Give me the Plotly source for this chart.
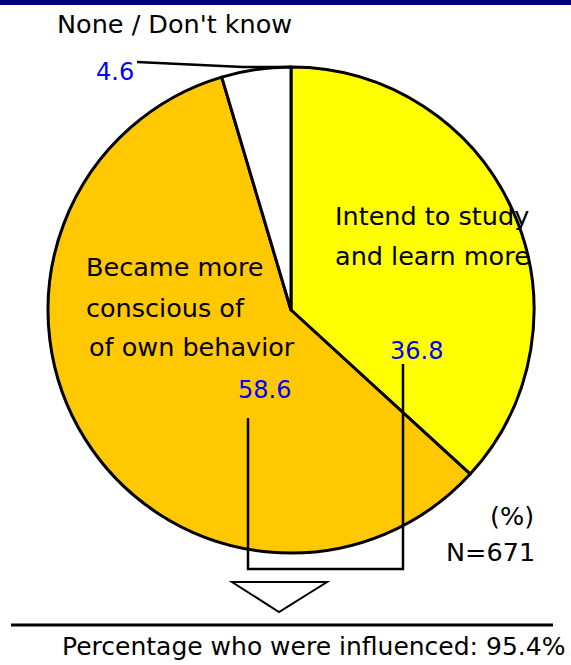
import plotly.graph_objects as go

# ---- data ----
labels = ["Intend to study and learn more", "Became more conscious of own behavior", "None / Don't know"]
values = [36.8, 58.6, 4.6]
colors = ["#FFFF00", "#FFC800", "#FFFFFF"]
sample_n = 671
influenced = 95.4

W, H = 571, 665


def px(x):
    return x / W


def py(y):
    return 1 - y / H


FONT = "DejaVu Sans"
FS = 25.5
FS_NUM = 24

fig = go.Figure()
fig.add_trace(go.Pie(
    labels=labels, values=values, sort=False, direction="clockwise", rotation=0,
    marker=dict(colors=colors, line=dict(color="black", width=3)),
    textinfo="none", hoverinfo="label+value", showlegend=False,
    domain=dict(x=[px(48), px(534)], y=[py(553), py(67)]),
))

shapes = []
# navy header bar (cut off)
shapes.append(dict(type="rect", xref="paper", yref="paper", x0=0, x1=1, y0=py(5), y1=1,
                   fillcolor="#000080", line=dict(width=0), layer="above"))
# leader line for 4.6
shapes.append(dict(type="path", xref="paper", yref="paper",
                   path=f"M {px(137)},{py(62)} L {px(243)},{py(67)} L {px(291)},{py(67)}",
                   line=dict(color="black", width=2.5), layer="above"))
# bracket joining the two influenced slices
shapes.append(dict(type="path", xref="paper", yref="paper",
                   path=f"M {px(248)},{py(418)} L {px(248)},{py(569)} L {px(403)},{py(569)} L {px(403)},{py(364)}",
                   line=dict(color="black", width=2.5), layer="above"))
# down arrow triangle
shapes.append(dict(type="path", xref="paper", yref="paper",
                   path=f"M {px(232)},{py(582)} L {px(327)},{py(582)} L {px(279)},{py(612)} Z",
                   fillcolor="white", line=dict(color="black", width=2), layer="above"))
# horizontal rule
shapes.append(dict(type="line", xref="paper", yref="paper", x0=px(11), x1=px(553), y0=py(625), y1=py(625),
                   line=dict(color="black", width=3), layer="above"))

ann = []


def add_text(text, x, y, color="black", xanchor="center", size=FS):
    ann.append(dict(text=text, x=px(x), y=py(y), xref="paper", yref="paper", showarrow=False,
                    xanchor=xanchor, yanchor="middle", font=dict(family=FONT, size=size, color=color)))


add_text(labels[2], 55, 24, xanchor="left")
add_text(f"{values[2]:.1f}", 115, 72, color="#0000FF", size=FS_NUM)
add_text("Intend to study", 333, 216, xanchor="left")
add_text("and learn more", 333, 256, xanchor="left")
add_text(f"{values[0]:.1f}", 416, 351, color="#0000FF", size=FS_NUM)
add_text("Became more", 84, 267, xanchor="left")
add_text("conscious of", 84, 308, xanchor="left")
add_text("of own behavior", 87, 347, xanchor="left")
add_text(f"{values[1]:.1f}", 264, 390, color="#0000FF", size=FS_NUM)
add_text("(%)", 536, 516, xanchor="right")
add_text(f"N={sample_n}", 537, 552, xanchor="right")
add_text(f"Percentage who were influenced: {influenced:.1f}%", 567, 646, xanchor="right", size=25)

fig.update_layout(
    width=W, height=H, margin=dict(l=0, r=0, t=0, b=0),
    paper_bgcolor="white", plot_bgcolor="white",
    shapes=shapes, annotations=ann,
)
fig.write_html("out.html", config={"displayModeBar": False},
               post_script="document.body.style.margin='0';document.body.style.overflow='hidden';")
